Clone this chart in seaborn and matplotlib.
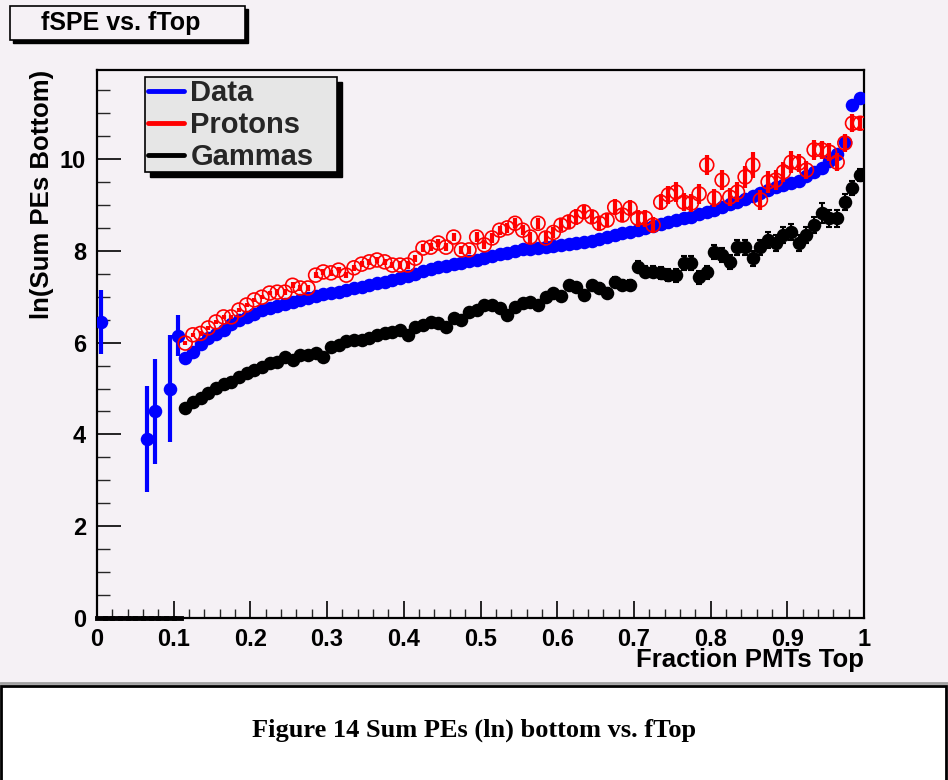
import numpy as np
import pandas as pd
import matplotlib
matplotlib.use("Agg")
import matplotlib.pyplot as plt
from matplotlib.patches import Rectangle
from matplotlib.lines import Line2D
from matplotlib.ticker import MultipleLocator, FuncFormatter
import seaborn as sns

# ---------------- data ----------------
bin_width = 0.01
# sparse Data points at low fTop
data_low_x = [0.005, 0.065, 0.075, 0.095, 0.105]
data_low_y = [6.45, 3.90, 4.50, 5.00, 6.15]
data_low_err = [0.70, 1.15, 1.15, 1.17, 0.45]

# regular bins 0.115 ... 0.995
main_x = list(np.round(np.arange(0.115, 1.0, bin_width), 3))

data_y = [5.66, 5.80, 5.98, 6.10, 6.18, 6.27, 6.40, 6.49, 6.55, 6.62,
          6.70, 6.75, 6.80, 6.85, 6.89, 6.93, 6.97, 7.01, 7.05, 7.08,
          7.11, 7.15, 7.18, 7.21, 7.26, 7.30, 7.32, 7.36, 7.40, 7.45,
          7.50, 7.55, 7.60, 7.64, 7.68, 7.71, 7.74, 7.77, 7.81, 7.85,
          7.89, 7.93, 7.96, 8.00, 8.03, 8.05, 8.07, 8.08, 8.11, 8.13,
          8.15, 8.17, 8.19, 8.22, 8.26, 8.30, 8.34, 8.38, 8.42, 8.46,
          8.50, 8.54, 8.58, 8.63, 8.68, 8.71, 8.74, 8.80, 8.84, 8.88,
          8.95, 9.01, 9.07, 9.13, 9.20, 9.27, 9.33, 9.38, 9.43, 9.48,
          9.53, 9.62, 9.72, 9.80, 9.95, 10.12, 10.38, 11.18, 11.33]
data_err = [0.03, 0.03, 0.03, 0.03, 0.03, 0.03, 0.03, 0.03, 0.03, 0.03,
            0.03, 0.03, 0.03, 0.03, 0.03, 0.03, 0.03, 0.03, 0.03, 0.03,
            0.03, 0.03, 0.03, 0.03, 0.03, 0.03, 0.03, 0.03, 0.03, 0.03,
            0.03, 0.03, 0.03, 0.03, 0.03, 0.03, 0.03, 0.03, 0.03, 0.03,
            0.03, 0.03, 0.03, 0.03, 0.03, 0.03, 0.03, 0.03, 0.03, 0.03,
            0.03, 0.03, 0.03, 0.03, 0.03, 0.03, 0.03, 0.03, 0.03, 0.03,
            0.04, 0.04, 0.04, 0.04, 0.04, 0.04, 0.04, 0.04, 0.04, 0.04,
            0.04, 0.04, 0.04, 0.04, 0.04, 0.04, 0.04, 0.05, 0.05, 0.05,
            0.05, 0.06, 0.06, 0.06, 0.07, 0.08, 0.10, 0.10, 0.08]

protons_y = [5.99, 6.17, 6.20, 6.32, 6.45, 6.56, 6.56, 6.71, 6.82, 6.93,
             6.99, 7.08, 7.10, 7.10, 7.25, 7.19, 7.19, 7.47, 7.54, 7.52,
             7.58, 7.47, 7.63, 7.71, 7.76, 7.80, 7.76, 7.69, 7.69, 7.69,
             7.84, 8.06, 8.08, 8.17, 8.08, 8.30, 8.02, 8.02, 8.30, 8.13,
             8.28, 8.45, 8.50, 8.60, 8.45, 8.30, 8.60, 8.28, 8.40, 8.56,
             8.63, 8.74, 8.85, 8.74, 8.60, 8.67, 8.95, 8.78, 8.93, 8.71,
             8.71, 8.56, 9.06, 9.22, 9.28, 9.06, 9.04, 9.24, 9.87, 9.15,
             9.54, 9.17, 9.28, 9.61, 9.87, 9.11, 9.50, 9.54, 9.72, 9.93,
             9.91, 9.76, 10.20, 10.20, 10.15, 9.93, 10.35, 10.78, 10.78]
protons_err = [0.05, 0.05, 0.05, 0.05, 0.05, 0.05, 0.05, 0.05, 0.05, 0.05,
               0.05, 0.05, 0.06, 0.06, 0.06, 0.06, 0.06, 0.06, 0.06, 0.06,
               0.07, 0.07, 0.07, 0.07, 0.07, 0.07, 0.07, 0.07, 0.08, 0.08,
               0.08, 0.08, 0.08, 0.08, 0.09, 0.09, 0.09, 0.09, 0.10, 0.10,
               0.10, 0.10, 0.11, 0.11, 0.11, 0.12, 0.12, 0.12, 0.12, 0.13,
               0.14, 0.18, 0.15, 0.15, 0.16, 0.16, 0.17, 0.16, 0.17, 0.18,
               0.18, 0.18, 0.18, 0.20, 0.22, 0.20, 0.20, 0.21, 0.22, 0.20,
               0.22, 0.20, 0.22, 0.24, 0.28, 0.22, 0.25, 0.22, 0.22, 0.24,
               0.20, 0.20, 0.22, 0.20, 0.20, 0.20, 0.20, 0.20, 0.15]

gammas_y = [4.57, 4.71, 4.79, 4.90, 5.01, 5.10, 5.14, 5.25, 5.34, 5.40,
            5.47, 5.55, 5.58, 5.69, 5.62, 5.73, 5.73, 5.77, 5.69, 5.90,
            5.95, 6.03, 6.06, 6.06, 6.10, 6.17, 6.21, 6.23, 6.27, 6.17,
            6.34, 6.38, 6.45, 6.43, 6.34, 6.54, 6.49, 6.67, 6.71, 6.82,
            6.82, 6.75, 6.60, 6.78, 6.86, 6.88, 6.82, 6.99, 7.09, 7.02,
            7.25, 7.21, 7.04, 7.25, 7.19, 7.08, 7.32, 7.25, 7.25, 7.65,
            7.54, 7.54, 7.52, 7.47, 7.47, 7.73, 7.73, 7.42, 7.53, 7.97,
            7.91, 7.76, 8.08, 8.08, 7.84, 8.08, 8.24, 8.17, 8.34, 8.41,
            8.17, 8.34, 8.56, 8.82, 8.71, 8.71, 9.06, 9.37, 9.65]
gammas_err = [0.04, 0.04, 0.04, 0.04, 0.04, 0.04, 0.04, 0.04, 0.04, 0.04,
              0.04, 0.04, 0.04, 0.04, 0.04, 0.04, 0.04, 0.04, 0.04, 0.04,
              0.05, 0.05, 0.05, 0.05, 0.05, 0.05, 0.05, 0.05, 0.05, 0.05,
              0.05, 0.05, 0.05, 0.05, 0.05, 0.06, 0.06, 0.06, 0.06, 0.06,
              0.06, 0.06, 0.06, 0.07, 0.07, 0.07, 0.07, 0.08, 0.08, 0.08,
              0.09, 0.09, 0.09, 0.10, 0.10, 0.10, 0.11, 0.11, 0.11, 0.12,
              0.12, 0.12, 0.13, 0.13, 0.14, 0.15, 0.15, 0.15, 0.15, 0.15,
              0.15, 0.15, 0.16, 0.16, 0.16, 0.16, 0.17, 0.17, 0.17, 0.17,
              0.18, 0.18, 0.18, 0.22, 0.18, 0.18, 0.17, 0.15, 0.13]

# empty low bins (drawn at zero)
empty_x = list(np.round(np.arange(0.005, 0.11, bin_width), 3))
empty_y = [0.0] * len(empty_x)

legend_labels = ["Data", "Protons", "Gammas"]
legend_colors = ["blue", "red", "black"]

title_text = "fSPE vs. fTop"
xlabel_text = "Fraction PMTs Top"
ylabel_text = "ln(Sum PEs Bottom)"
caption_text = "Figure 14 Sum PEs (ln) bottom vs. fTop"

# ---------------- style ----------------
sns.set_theme(style="ticks")
plt.rcParams['font.family'] = ['Liberation Sans', 'DejaVu Sans']
plt.rcParams['font.weight'] = 'bold'
plt.rcParams['axes.labelweight'] = 'bold'

BG = '#f5f1f5'
W, H = 948, 780
fig = plt.figure(figsize=(W / 100, H / 100), dpi=100, facecolor=BG)


def fx(px):
    return px / W


def fy(py):
    return 1 - py / H


ax = fig.add_axes([fx(97), fy(618), fx(864) - fx(97), fy(70) - fy(618)])
ax.set_facecolor(BG)

df_data = pd.DataFrame({"x": main_x, "y": data_y, "err": data_err})
df_low = pd.DataFrame({"x": data_low_x, "y": data_low_y, "err": data_low_err})
df_p = pd.DataFrame({"x": main_x, "y": protons_y, "err": protons_err})
df_g = pd.DataFrame({"x": main_x, "y": gammas_y, "err": gammas_err})

# empty bins drawn as a thick line at zero
ex = np.array(empty_x)
ax.hlines(empty_y, ex - bin_width / 2, ex + bin_width / 2, colors='black',
          linewidth=3.5, clip_on=False, zorder=4, capstyle='projecting')

MS = 95
# Data
ax.errorbar(df_low.x, df_low.y, yerr=df_low.err, fmt='none', ecolor='blue',
            elinewidth=3, capsize=0, zorder=2)
ax.errorbar(df_data.x, df_data.y, yerr=df_data.err, fmt='none', ecolor='blue',
            elinewidth=3, capsize=0, zorder=2)
sns.scatterplot(data=df_low, x="x", y="y", ax=ax, color='blue', s=MS,
                linewidth=0, zorder=3, legend=False)
sns.scatterplot(data=df_data, x="x", y="y", ax=ax, color='blue', s=MS,
                linewidth=0, zorder=3, legend=False)

# Protons
ax.errorbar(df_p.x, df_p.y, yerr=df_p.err, fmt='none', ecolor='red',
            elinewidth=3, capsize=0, zorder=4)
sns.scatterplot(data=df_p, x="x", y="y", ax=ax, color='red', s=100,
                linewidth=1.2, zorder=5, legend=False)
coll = ax.collections[-1]
coll.set_facecolor('none')
coll.set_edgecolor('red')

# Gammas
ax.errorbar(df_g.x, df_g.y, yerr=df_g.err, fmt='none', ecolor='black',
            elinewidth=1.5, capsize=2, capthick=1.5, zorder=2)
sns.scatterplot(data=df_g, x="x", y="y", ax=ax, color='black', s=MS,
                linewidth=0, zorder=3, legend=False)

# axes
ax.set_xlim(0, 1)
ax.set_ylim(0, 11.94)
ax.xaxis.set_major_locator(MultipleLocator(0.1))
ax.xaxis.set_minor_locator(MultipleLocator(0.02))
ax.yaxis.set_major_locator(MultipleLocator(2))
ax.yaxis.set_minor_locator(MultipleLocator(0.5))
ax.xaxis.set_major_formatter(FuncFormatter(lambda v, p: f"{v:g}"))
ax.yaxis.set_major_formatter(FuncFormatter(lambda v, p: f"{v:g}"))
ax.tick_params(axis='x', which='major', direction='in', length=12, width=1.2,
               pad=7, labelsize=17, colors='black')
ax.tick_params(axis='x', which='minor', direction='in', length=6.5, width=1.0)
ax.tick_params(axis='y', which='major', direction='in', length=17, width=1.2,
               pad=8, labelsize=17, colors='black')
ax.tick_params(axis='y', which='minor', direction='in', length=9, width=1.0)
ax.tick_params(top=False, right=False, which='both')
for lab in ax.get_xticklabels() + ax.get_yticklabels():
    lab.set_fontweight('bold')
for s in ax.spines.values():
    s.set_color('black')
    s.set_linewidth(1.6)
    s.set_visible(True)

ax.set_xlabel(xlabel_text, fontsize=18.5, fontweight='bold', loc='right', color='black')
ax.xaxis.set_label_coords(1.0, -0.055)
ax.set_ylabel(ylabel_text, fontsize=18.5, fontweight='bold', loc='top', color='black')
ax.yaxis.set_label_coords(-0.056, 1.0)

# title box
fig.add_artist(Rectangle((fx(13), fy(43)), fx(235), 34 / H, transform=fig.transFigure,
                         facecolor='black', edgecolor='black', zorder=1))
fig.add_artist(Rectangle((fx(10), fy(40)), fx(235), 34 / H, transform=fig.transFigure,
                         facecolor=BG, edgecolor='black', linewidth=1.2, zorder=1.1))
fig.text(fx(121), fy(23), title_text, ha='center', va='center', fontsize=18,
         fontweight='bold', color='black', zorder=2)

# legend box
fig.add_artist(Rectangle((fx(150), fy(177)), fx(192), 95 / H, transform=fig.transFigure,
                         facecolor='black', edgecolor='black', zorder=3))
fig.add_artist(Rectangle((fx(145), fy(172)), fx(192), 95 / H, transform=fig.transFigure,
                         facecolor='#e6e6e6', edgecolor='black', linewidth=1.2, zorder=3.1))
handles = [Line2D([0], [0], color=c, lw=3.5) for c in legend_colors]
leg = fig.legend(handles, legend_labels, loc='upper left',
                 bbox_to_anchor=(fx(148), fy(79)), frameon=False,
                 prop={'size': 21, 'weight': 'bold'}, handlelength=1.25,
                 handletextpad=0.2, labelspacing=0.14, borderpad=0.0,
                 borderaxespad=0.0)
leg.set_zorder(4)

# caption area
fig.add_artist(Line2D([0, 1], [fy(683), fy(683)], transform=fig.transFigure,
                      color='#a0a0a0', lw=2, zorder=5))
fig.add_artist(Rectangle((fx(1), -0.05), fx(945), fy(686) + 0.05,
                         transform=fig.transFigure, facecolor='white',
                         edgecolor='black', linewidth=2, zorder=5))
fig.text(0.5, fy(730), caption_text, ha='center', va='center', fontsize=19,
         fontweight='bold', family=['Liberation Serif', 'DejaVu Serif'],
         color='black', zorder=6)

fig.savefig('out.png', dpi=100, facecolor=BG)
